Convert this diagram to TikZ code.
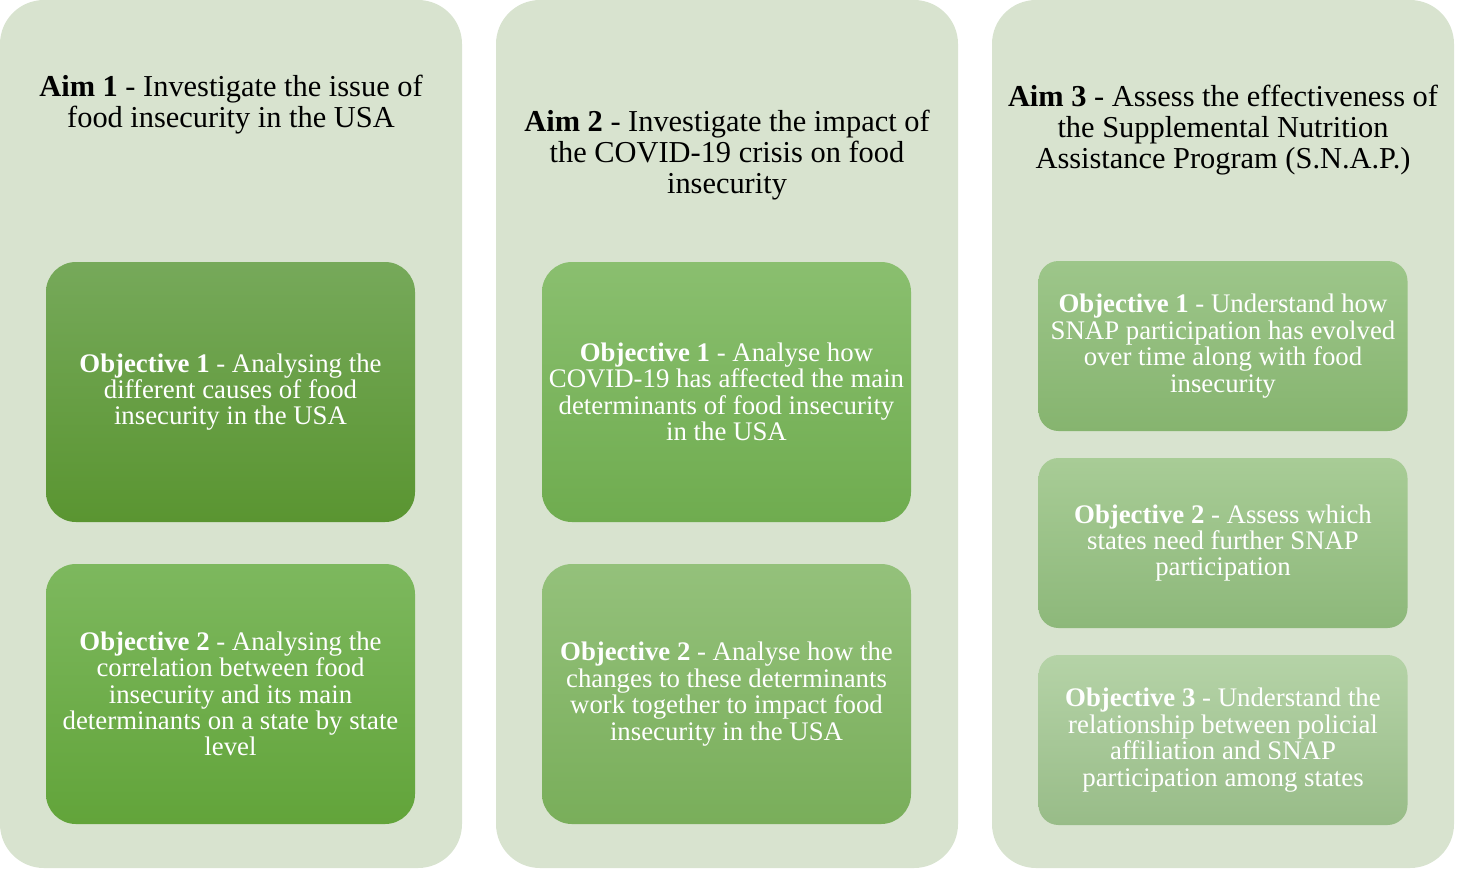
\documentclass[tikz,border=0pt]{standalone}
\usepackage{fontspec}
\setmainfont{Liberation Serif}
\usepackage{tikz}
\usetikzlibrary{positioning}

\definecolor{panelbg}{RGB}{216,227,207}
\definecolor{gA1t}{RGB}{118,169,90}  \definecolor{gA1b}{RGB}{90,149,49}
\definecolor{gA2t}{RGB}{125,184,94}  \definecolor{gA2b}{RGB}{98,164,58}
\definecolor{gB1t}{RGB}{138,191,111} \definecolor{gB1b}{RGB}{111,172,79}
\definecolor{gB2t}{RGB}{148,193,123} \definecolor{gB2b}{RGB}{121,174,90}
\definecolor{gC1t}{RGB}{157,198,138} \definecolor{gC1b}{RGB}{134,180,111}
\definecolor{gC2t}{RGB}{168,204,150} \definecolor{gC2b}{RGB}{141,184,122}
\definecolor{gC3t}{RGB}{181,211,167} \definecolor{gC3b}{RGB}{152,188,136}

\tikzset{
  panel/.style={fill=panelbg, rounded corners=22pt, minimum width=231pt,
    minimum height=434pt, inner sep=0pt},
  aimtext/.style={align=center, font=\fontsize{15.2}{15.5}\selectfont},
  objbox/.style={rounded corners=15pt, minimum width=184.5pt, minimum height=130pt,
    align=center, text=white, inner sep=0pt, font=\fontsize{13.4}{13.2}\selectfont},
  smallobj/.style={objbox, rounded corners=10pt, minimum height=85pt}
}

\begin{document}
\begin{tikzpicture}[x=0.5pt, y=-0.5pt]
\useasboundingbox (0,0) rectangle (1460,868);
% panels
\node[panel] (colA) at (231,434) {};
\node[panel] (colB) at (727,434) {};
\node[panel] (colC) at (1223,434) {};
% aims
\node[aimtext] (aimA) at (231,105) {\textbf{Aim 1} - Investigate the issue of\\food insecurity in the USA};
\node[aimtext] (aimB) at (727,155) {\textbf{Aim 2} - Investigate the impact of\\the COVID-19 crisis on food\\insecurity};
\node[aimtext] (aimC) at (1223,130) {\textbf{Aim 3} - Assess the effectiveness of\\the Supplemental Nutrition\\Assistance Program (S.N.A.P.)};
% objectives, aim 1
\node[objbox, top color=gA1t, bottom color=gA1b] (objA1) at (230.5,392) {\textbf{Objective 1} - Analysing the\\different causes of food\\insecurity in the USA};
\node[objbox, top color=gA2t, bottom color=gA2b] (objA2) at (230.5,694) {\textbf{Objective 2} - Analysing the\\correlation between food\\insecurity and its main\\determinants on a state by state\\level};
% objectives, aim 2
\node[objbox, top color=gB1t, bottom color=gB1b] (objB1) at (726.5,392) {\textbf{Objective 1} - Analyse how\\COVID-19 has affected the main\\determinants of food insecurity\\in the USA};
\node[objbox, top color=gB2t, bottom color=gB2b] (objB2) at (726.5,694) {\textbf{Objective 2} - Analyse how the\\changes to these determinants\\work together  to impact food\\insecurity in the USA};
% objectives, aim 3
\node[smallobj, top color=gC1t, bottom color=gC1b] (objC1) at (1223,346) {\textbf{Objective 1} - Understand how\\SNAP participation has evolved\\over time along with food\\insecurity};
\node[smallobj, top color=gC2t, bottom color=gC2b] (objC2) at (1223,543) {\textbf{Objective 2} - Assess which\\states need further SNAP\\participation};
\node[smallobj, top color=gC3t, bottom color=gC3b] (objC3) at (1223,740) {\textbf{Objective 3} - Understand the\\relationship between policial\\affiliation and SNAP\\participation among states};
\end{tikzpicture}
\end{document}
